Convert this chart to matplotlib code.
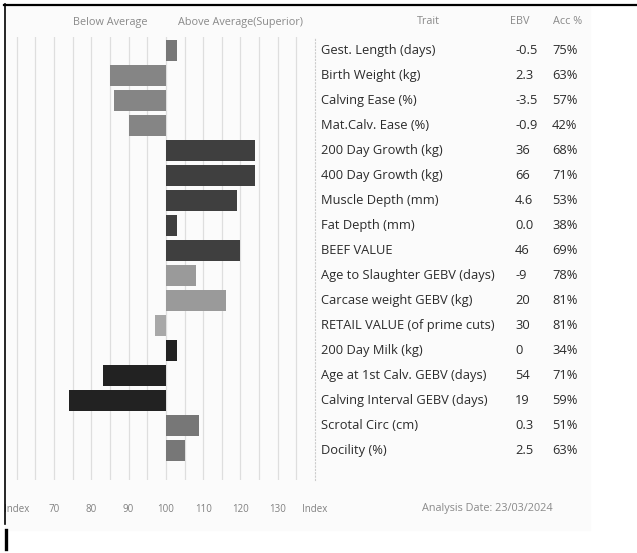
import matplotlib
matplotlib.use("Agg")
import matplotlib.pyplot as plt
from matplotlib.lines import Line2D
from matplotlib.patches import Rectangle

W, H = 637, 553

traits = [
    "Gest. Length (days)", "Birth Weight (kg)", "Calving Ease (%)",
    "Mat.Calv. Ease (%)", "200 Day Growth (kg)", "400 Day Growth (kg)",
    "Muscle Depth (mm)", "Fat Depth (mm)", "BEEF VALUE",
    "Age to Slaughter GEBV (days)", "Carcase weight GEBV (kg)",
    "RETAIL VALUE (of prime cuts)", "200 Day Milk (kg)",
    "Age at 1st Calv. GEBV (days)", "Calving Interval GEBV (days)",
    "Scrotal Circ (cm)", "Docility (%)",
]
ebv = ["-0.5", "2.3", "-3.5", "-0.9", "36", "66", "4.6", "0.0", "46",
       "-9", "20", "30", "0", "54", "19", "0.3", "2.5"]
acc = ["75%", "63%", "57%", "42%", "68%", "71%", "53%", "38%", "69%",
       "78%", "81%", "81%", "34%", "71%", "59%", "51%", "63%"]
index = [103, 85, 86, 90, 124, 124, 119, 103, 120,
         108, 116, 97, 103, 83, 74, 109, 105]
colors = ["#777777", "#858585", "#858585", "#858585", "#3f3f3f", "#3f3f3f",
          "#3f3f3f", "#3f3f3f", "#3f3f3f", "#9a9a9a", "#9a9a9a", "#a8a8a8",
          "#222222", "#222222", "#222222", "#777777", "#777777"]
tick_vals = [60, 70, 80, 90, 100, 110, 120, 130, 140]
tick_labels = ["Index", "70", "80", "90", "100", "110", "120", "130", "Index"]

plt.rcParams["font.family"] = ["Open Sans", "DejaVu Sans"]


def fx(px):
    return px / W


def fy(py):
    return 1 - py / H


fig = plt.figure(figsize=(W / 100, H / 100), dpi=100)

# faint panel background and black frame lines
fig.patches.append(Rectangle((fx(5), fy(530)), fx(585), 525 / H,
                             transform=fig.transFigure, color="#fbfbfb",
                             zorder=-5))
fig.lines.append(Line2D([fx(4), fx(637)], [fy(4.5), fy(4.5)],
                        transform=fig.transFigure, color="black", lw=1.6))
fig.lines.append(Line2D([fx(4.5), fx(4.5)], [fy(4), fy(524)],
                        transform=fig.transFigure, color="black", lw=1.2))
fig.lines.append(Line2D([fx(5.5), fx(5.5)], [fy(530), fy(549)],
                        transform=fig.transFigure, color="black", lw=2.4))

# bar axes: 100 sits at x=166px, 10 index units ~ 37.3px
left_px, right_px, top_px, bot_px = 10, 315, 37, 480
ax = fig.add_axes([fx(left_px), fy(bot_px), (right_px - left_px) / W,
                   (bot_px - top_px) / H])
ax.set_facecolor("none")
ppu = 3.73
ax.set_xlim(100 - (166 - left_px) / ppu, 100 + (right_px - 166) / ppu)
row0, step = 50.5, 25.0
ax.set_ylim((bot_px - row0) / step, (top_px - row0) / step)

for g in range(60, 140, 5):
    ax.axvline(g, color="#dedede", lw=0.9, zorder=0)

rows = list(range(len(traits)))
ax.barh(rows, [v - 100 for v in index], left=100, height=0.84,
        color=colors, zorder=2)

for s in ["top", "left", "bottom"]:
    ax.spines[s].set_visible(False)
ax.spines["right"].set_color("#cccccc")
ax.spines["right"].set_linestyle((0, (1, 2)))
ax.spines["right"].set_linewidth(0.8)
ax.set_yticks([])
ax.set_xticks(tick_vals)
ax.set_xticklabels(tick_labels)
ax.tick_params(axis="x", length=0, labelsize=7, colors="#808080", pad=17)

# column headers
hdr = dict(fontsize=7.8, color="#8a8a8a", va="center")
fig.text(fx(110), fy(22), "Below Average", ha="center", **hdr)
fig.text(fx(240), fy(22), "Above Average(Superior)", ha="center", **hdr)
fig.text(fx(428), fy(22), "Trait", ha="center", **hdr)
fig.text(fx(520), fy(22), "EBV", ha="center", **hdr)
fig.text(fx(568), fy(22), "Acc %", ha="center", **hdr)

# trait table
body = dict(fontsize=9.3, color="#2b2b2b", va="center")
for i, (t, e, a) in enumerate(zip(traits, ebv, acc)):
    y = fy(row0 + step * i)
    fig.text(fx(321), y, t, **body)
    fig.text(fx(515), y, e, **body)
    fig.text(fx(552), y, a, **body)

fig.text(fx(487), fy(508), "Analysis Date: 23/03/2024", ha="center",
         fontsize=7.8, color="#8a8a8a", va="center")

fig.savefig("out.png", dpi=100, facecolor="white")
